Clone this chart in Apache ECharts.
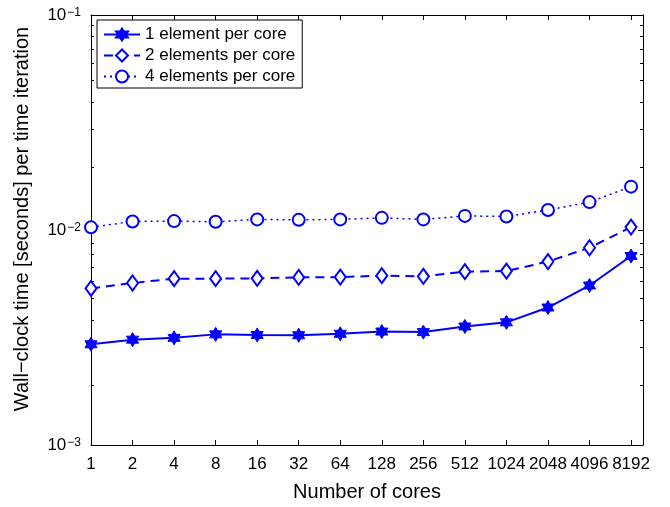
<!DOCTYPE html>
<html>
<head>
<meta charset="utf-8">
<script src="https://cdn.jsdelivr.net/npm/echarts@6/dist/echarts.min.js"></script>
<style>html,body{margin:0;padding:0;background:#fff}#c{width:670px;height:507px}</style>
</head>
<body>
<div id="c"></div>
<script>
var cores = [1, 2, 4, 8, 16, 32, 64, 128, 256, 512, 1024, 2048, 4096, 8192];
var onePerCore  = [2.94e-3, 3.09e-3, 3.15e-3, 3.27e-3, 3.25e-3, 3.24e-3, 3.29e-3, 3.37e-3, 3.35e-3, 3.56e-3, 3.72e-3, 4.36e-3, 5.52e-3, 7.57e-3];
var twoPerCore  = [5.35e-3, 5.67e-3, 5.94e-3, 5.94e-3, 5.96e-3, 6.02e-3, 6.04e-3, 6.13e-3, 6.09e-3, 6.40e-3, 6.44e-3, 7.13e-3, 8.27e-3, 1.032e-2];
var fourPerCore = [1.029e-2, 1.096e-2, 1.100e-2, 1.092e-2, 1.120e-2, 1.115e-2, 1.120e-2, 1.139e-2, 1.120e-2, 1.163e-2, 1.156e-2, 1.239e-2, 1.348e-2, 1.591e-2];
var seriesNames = ['1 element per core', '2 elements per core', '4 elements per core'];
var yMajorTicks = [0.001, 0.01, 0.1];
var yMinorTicks = [0.002, 0.003, 0.004, 0.005, 0.006, 0.007, 0.008, 0.009,
                   0.02, 0.03, 0.04, 0.05, 0.06, 0.07, 0.08, 0.09];
var xName = 'Number of cores';
var yName = 'Wall\u2212clock time [seconds] per time iteration';

var FONT = 'Liberation Sans, Arial, Helvetica, sans-serif';
var BLUE = '#0000ff';
var HEX = 'path://M0,-100L28.87,-50L86.6,-50L57.74,0L86.6,50L28.87,50L0,100L-28.87,50L-86.6,50L-57.74,0L-86.6,-50L-28.87,-50Z';

function pairs(vals) { return cores.map(function (c, i) { return [c, vals[i]]; }); }

var axisLine = { show: true, onZero: false, lineStyle: { color: '#000', width: 1 } };
var gridRect = { left: 91, right: 27, top: 15, bottom: 56, containLabel: false };

var chart = echarts.init(document.getElementById('c'), null, { renderer: 'canvas' });
chart.setOption({
  animation: false,
  backgroundColor: '#fff',
  grid: [gridRect, Object.assign({}, gridRect)],
  legend: {
    orient: 'vertical',
    left: 97, top: 20,
    padding: [6, 7, 3, 6],
    itemGap: 4,
    itemWidth: 36,
    itemHeight: 15,
    borderColor: '#000', borderWidth: 1, backgroundColor: '#fff',
    textStyle: { fontFamily: FONT, fontSize: 17, color: '#000', lineHeight: 15 },
    data: seriesNames
  },
  xAxis: [
    { type: 'log', logBase: 2, min: 1, max: 10000, gridIndex: 0, position: 'bottom',
      name: xName, nameLocation: 'middle', nameGap: 37,
      nameTextStyle: { fontFamily: FONT, fontSize: 20, color: '#000' },
      axisLine: axisLine,
      axisTick: { show: true, inside: true, length: 5, customValues: cores, lineStyle: { color: '#000' } },
      axisLabel: { show: true, margin: 11, customValues: cores, fontFamily: FONT, fontSize: 17, color: '#000',
                   formatter: function (v) { return String(Math.round(v)); } },
      splitLine: { show: false }, minorTick: { show: false } },
    { type: 'log', logBase: 2, min: 1, max: 10000, gridIndex: 0, position: 'top',
      axisLine: axisLine,
      axisTick: { show: true, inside: true, length: 5, customValues: cores, lineStyle: { color: '#000' } },
      axisLabel: { show: false }, splitLine: { show: false } },
    { type: 'log', logBase: 2, min: 1, max: 10000, gridIndex: 1, show: false }
  ],
  yAxis: [
    { type: 'log', logBase: 10, min: 0.001, max: 0.1, gridIndex: 0, position: 'left',
      name: yName, nameLocation: 'middle', nameGap: 59,
      nameTextStyle: { fontFamily: FONT, fontSize: 20, color: '#000', padding: [0, 0, 0, 22] },
      axisLine: axisLine,
      axisTick: { show: true, inside: true, length: 5, customValues: yMajorTicks, lineStyle: { color: '#000' } },
      axisLabel: { show: true, margin: 10, customValues: yMajorTicks,
        formatter: function (v) {
          var e = Math.round(Math.log10(v));
          return '{b|10}{s|' + (e < 0 ? '\u2212' + (-e) : e) + '}';
        },
        rich: {
          b: { fontFamily: FONT, fontSize: 17, color: '#000', lineHeight: 17, verticalAlign: 'bottom' },
          s: { fontFamily: FONT, fontSize: 12, color: '#000', lineHeight: 12, verticalAlign: 'top', padding: [0, 0, 12, 1] }
        } },
      splitLine: { show: false } },
    { type: 'log', logBase: 10, min: 0.001, max: 0.1, gridIndex: 0, position: 'right',
      axisLine: axisLine,
      axisTick: { show: true, inside: true, length: 5, customValues: yMajorTicks, lineStyle: { color: '#000' } },
      axisLabel: { show: false }, splitLine: { show: false } },
    { type: 'log', logBase: 10, min: 0.001, max: 0.1, gridIndex: 1, position: 'left',
      axisLine: { show: false },
      axisTick: { show: true, inside: true, length: 3, customValues: yMinorTicks, lineStyle: { color: '#000' } },
      axisLabel: { show: false }, splitLine: { show: false } },
    { type: 'log', logBase: 10, min: 0.001, max: 0.1, gridIndex: 1, position: 'right',
      axisLine: { show: false },
      axisTick: { show: true, inside: true, length: 3, customValues: yMinorTicks, lineStyle: { color: '#000' } },
      axisLabel: { show: false }, splitLine: { show: false } }
  ],
  series: [
    { name: seriesNames[0], type: 'line', xAxisIndex: 0, yAxisIndex: 0, data: pairs(onePerCore),
      symbol: HEX, symbolSize: 14, symbolKeepAspect: true, showAllSymbol: true,
      lineStyle: { color: BLUE, width: 2, type: 'solid' },
      itemStyle: { color: BLUE, borderColor: BLUE, borderWidth: 1 } },
    { name: seriesNames[1], type: 'line', xAxisIndex: 0, yAxisIndex: 0, data: pairs(twoPerCore),
      symbol: 'emptyDiamond', symbolSize: [11, 15], showAllSymbol: true,
      lineStyle: { color: BLUE, width: 2, type: [9, 6] },
      itemStyle: { color: BLUE, borderColor: BLUE, borderWidth: 2 } },
    { name: seriesNames[2], type: 'line', xAxisIndex: 0, yAxisIndex: 0, data: pairs(fourPerCore),
      symbol: 'emptyCircle', symbolSize: 12, showAllSymbol: true,
      lineStyle: { color: BLUE, width: 1.5, type: [2, 4] },
      itemStyle: { color: BLUE, borderColor: BLUE, borderWidth: 2 } }
  ]
});
</script>
</body>
</html>
